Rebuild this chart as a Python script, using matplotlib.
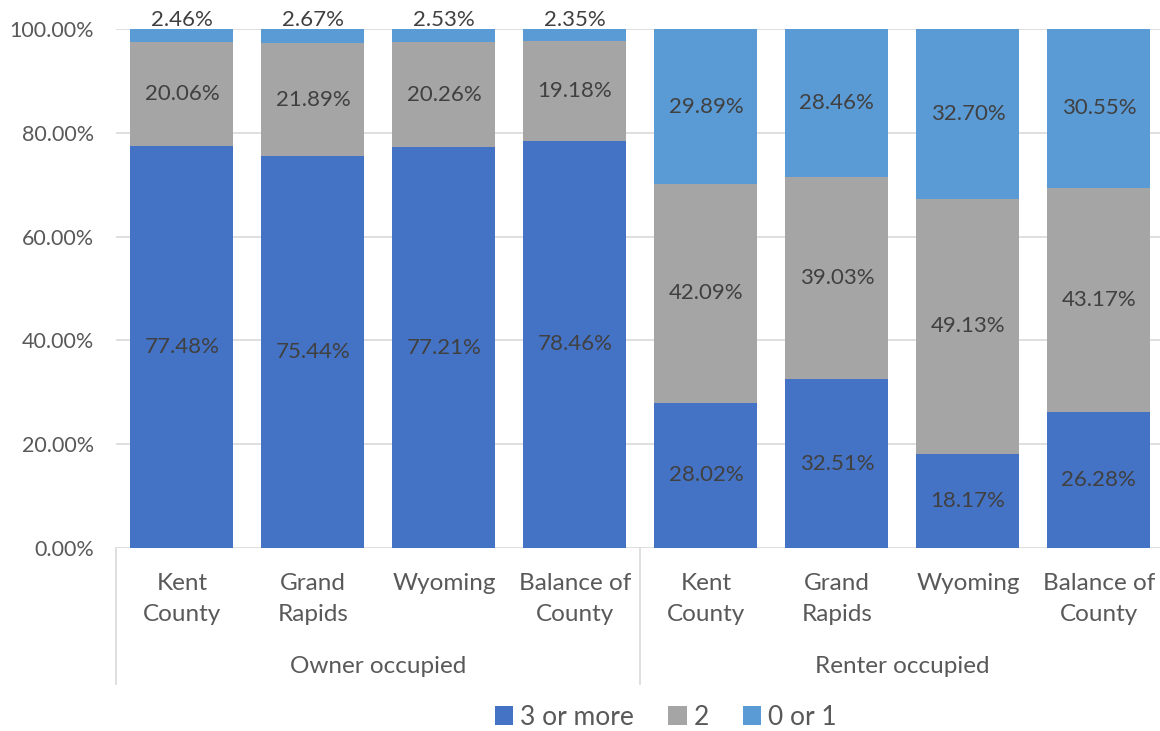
import numpy as np
import matplotlib.pyplot as plt
from matplotlib.patches import Patch
import matplotlib.transforms as mtransforms

plt.rcParams['font.family'] = ['Lato', 'DejaVu Sans']

groups = ["Owner occupied", "Renter occupied"]
places = [["Kent", "County"], ["Grand", "Rapids"], ["Wyoming"], ["Balance of", "County"]]
series = ["3 or more", "2", "0 or 1"]
three_plus = [77.48, 75.44, 77.21, 78.46, 28.02, 32.51, 18.17, 26.28]
two = [20.06, 21.89, 20.26, 19.18, 42.09, 39.03, 49.13, 43.17]
zero_one = [2.46, 2.67, 2.53, 2.35, 29.89, 28.46, 32.70, 30.55]
colors = ["#4472C4", "#A5A5A5", "#5B9BD5"]
yticks = [0, 20, 40, 60, 80, 100]

fig = plt.figure(figsize=(11.6, 7.31), dpi=100)
ax = fig.add_axes([0.1004, 0.2503, 0.9034, 0.710])

x = np.arange(len(three_plus))
bottom = np.zeros(len(x))
for vals, col in zip([three_plus, two, zero_one], colors):
    vals = np.array(vals)
    ax.bar(x, vals, 0.786, bottom=bottom, color=col, zorder=2)
    for xi, b, v in zip(x, bottom, vals):
        yc = b + v / 2
        if v < 5:
            yc = b + v + 1.8
        ax.text(xi, yc, f"{v:.2f}%", ha="center", va="center",
                fontsize=16, color="#404040", zorder=3)
    bottom += vals

ax.set_xlim(-0.5, 7.5)
ax.set_ylim(0, 100)
ax.set_yticks(yticks)
ax.set_yticklabels([f"{t:.2f}%" for t in yticks])
ax.tick_params(axis="y", length=0, pad=16, labelsize=15.5, labelcolor="#595959")
ax.set_xticks([])
for s in ax.spines.values():
    s.set_visible(False)
for t in yticks:
    ax.axhline(t, color="#D9D9D9", lw=1.2, zorder=1)

# two-level category axis
trans = mtransforms.blended_transform_factory(ax.transData, ax.transAxes)
line_y = [-0.0674, -0.1272]
for i, xi in enumerate(x):
    for ly, word in zip(line_y, places[i % 4]):
        ax.text(xi, ly, word, transform=trans, ha="center", va="center",
                fontsize=17.5, color="#595959")
for g, name in enumerate(groups):
    ax.text(g * 4 + 1.5, -0.2274, name, transform=trans, ha="center", va="center",
            fontsize=17.5, color="#595959")
for xb in [-0.5, 3.5, 7.5]:
    ax.plot([xb, xb], [0, -0.262], transform=trans, color="#D9D9D9", lw=1.2,
            clip_on=False)

handles = [Patch(facecolor=c, label=s) for s, c in zip(series, colors)]
fig.legend(handles=handles, loc="center", bbox_to_anchor=(0.574, 0.019), ncol=3,
           frameon=False, fontsize=19, handlelength=0.7, handleheight=0.7,
           handletextpad=0.25, columnspacing=1.3, labelcolor="#595959")

fig.savefig("out.png", dpi=100)
